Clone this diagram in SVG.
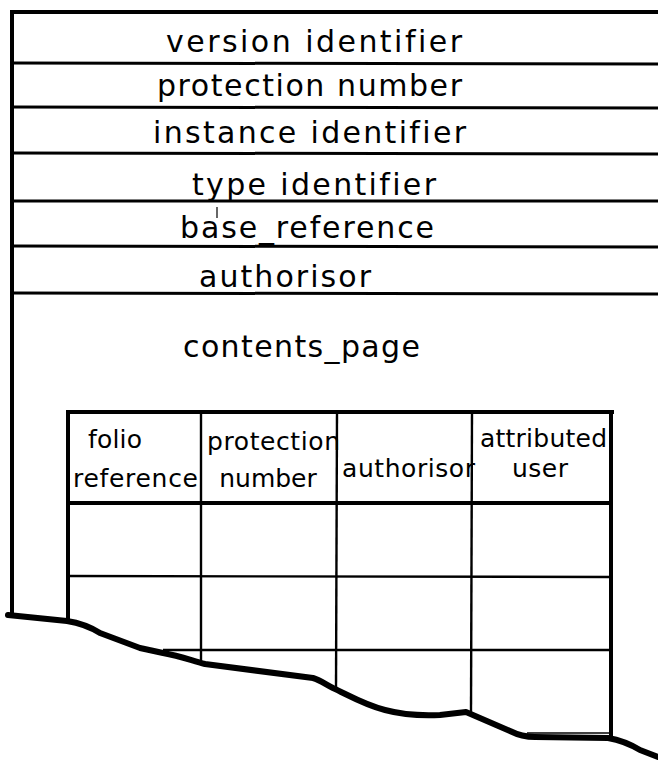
<svg xmlns="http://www.w3.org/2000/svg" width="658" height="760" viewBox="0 0 658 760">
<style>
.t{font-family:"DejaVu Sans","Liberation Sans",sans-serif;font-size:30px;fill:#000;font-variant-ligatures:none}
.s{font-family:"DejaVu Sans","Liberation Sans",sans-serif;font-size:25px;fill:#000;font-variant-ligatures:none}
.thick{stroke:#000;stroke-width:4;fill:none}
.mid{stroke:#000;stroke-width:3;fill:none}
.thin{stroke:#000;stroke-width:2.4;fill:none}
</style>
<rect width="658" height="760" fill="#fff"/>
<g id="frame">
<line class="thick" x1="10" y1="12" x2="658" y2="12"/>
<line class="thick" x1="12" y1="10" x2="12" y2="617"/>
</g>
<g id="rows">
<line class="mid" x1="12" y1="63" x2="658" y2="64"/>
<line class="mid" x1="12" y1="107" x2="658" y2="108"/>
<line class="mid" x1="12" y1="153" x2="658" y2="154"/>
<line class="mid" x1="12" y1="201" x2="658" y2="201"/>
<line class="mid" x1="12" y1="246" x2="658" y2="247"/>
<line class="mid" x1="12" y1="293" x2="658" y2="294"/>
</g>
<g id="version-identifier"><text class="t" x="166" y="52" textLength="296" lengthAdjust="spacing">version identifier</text></g>
<g id="protection-number"><text class="t" x="157" y="96" textLength="305" lengthAdjust="spacing">protection number</text></g>
<g id="instance-identifier"><text class="t" x="153" y="143" textLength="313" lengthAdjust="spacing">instance identifier</text></g>
<g id="type-identifier"><text class="t" x="192" y="195" textLength="244" lengthAdjust="spacing">type identifier</text></g>
<g id="base-reference"><text class="t" x="180" y="238" textLength="254" lengthAdjust="spacing">base_reference</text>
<line stroke="#000" stroke-width="1.2" x1="217" y1="207" x2="217" y2="218"/></g>
<g id="authorisor"><text class="t" x="199" y="287" textLength="172" lengthAdjust="spacing">authorisor</text></g>
<g id="contents-page"><text class="t" x="183" y="357" textLength="237" lengthAdjust="spacing">contents_page</text></g>
<g id="table">
<text class="s" x="88" y="448" textLength="54" lengthAdjust="spacing">folio</text>
<text class="s" x="73" y="487" textLength="125" lengthAdjust="spacing">reference</text>
<text class="s" x="207" y="450" textLength="133" lengthAdjust="spacing">protection</text>
<text class="s" x="268" y="487" text-anchor="middle">number</text>
<text class="s" x="342" y="477" textLength="133" lengthAdjust="spacing">authorisor</text>
<text class="s" x="480" y="447" textLength="127" lengthAdjust="spacing">attributed</text>
<text class="s" x="512" y="477" textLength="56" lengthAdjust="spacing">user</text>
<line class="thick" x1="66" y1="412" x2="614" y2="412"/>
<line class="thick" x1="68" y1="410" x2="68" y2="621"/>
<line class="thick" x1="611" y1="410" x2="611" y2="739"/>
<line class="thick" x1="68" y1="503" x2="611" y2="503"/>
<line class="thin" x1="201" y1="412" x2="201" y2="661"/>
<line class="thin" x1="337" y1="412" x2="336" y2="688"/>
<line class="thin" x1="472" y1="412" x2="471" y2="712"/>
<line class="thin" x1="68" y1="576" x2="611" y2="577"/>
<line class="thin" x1="163" y1="650" x2="611" y2="650"/>
<line stroke="#000" stroke-width="1.5" x1="527" y1="733" x2="609" y2="733"/>
</g>
<g id="connectors">
<path d="M 8 615 L 67 621 C 80 623 92 628 100 633 L 140 648 L 163 653 C 180 656 190 660 205 664 L 313 678 C 320 680 325 684 333 688 C 350 696 365 705 385 710 C 400 714 420 716 440 715 L 466 712 L 510 731 C 518 735 525 737 535 737 L 608 738 C 620 740 630 744 640 750 L 658 757" stroke="#000" stroke-width="6" fill="none" stroke-linejoin="round" stroke-linecap="round"/>
</g>
</svg>
